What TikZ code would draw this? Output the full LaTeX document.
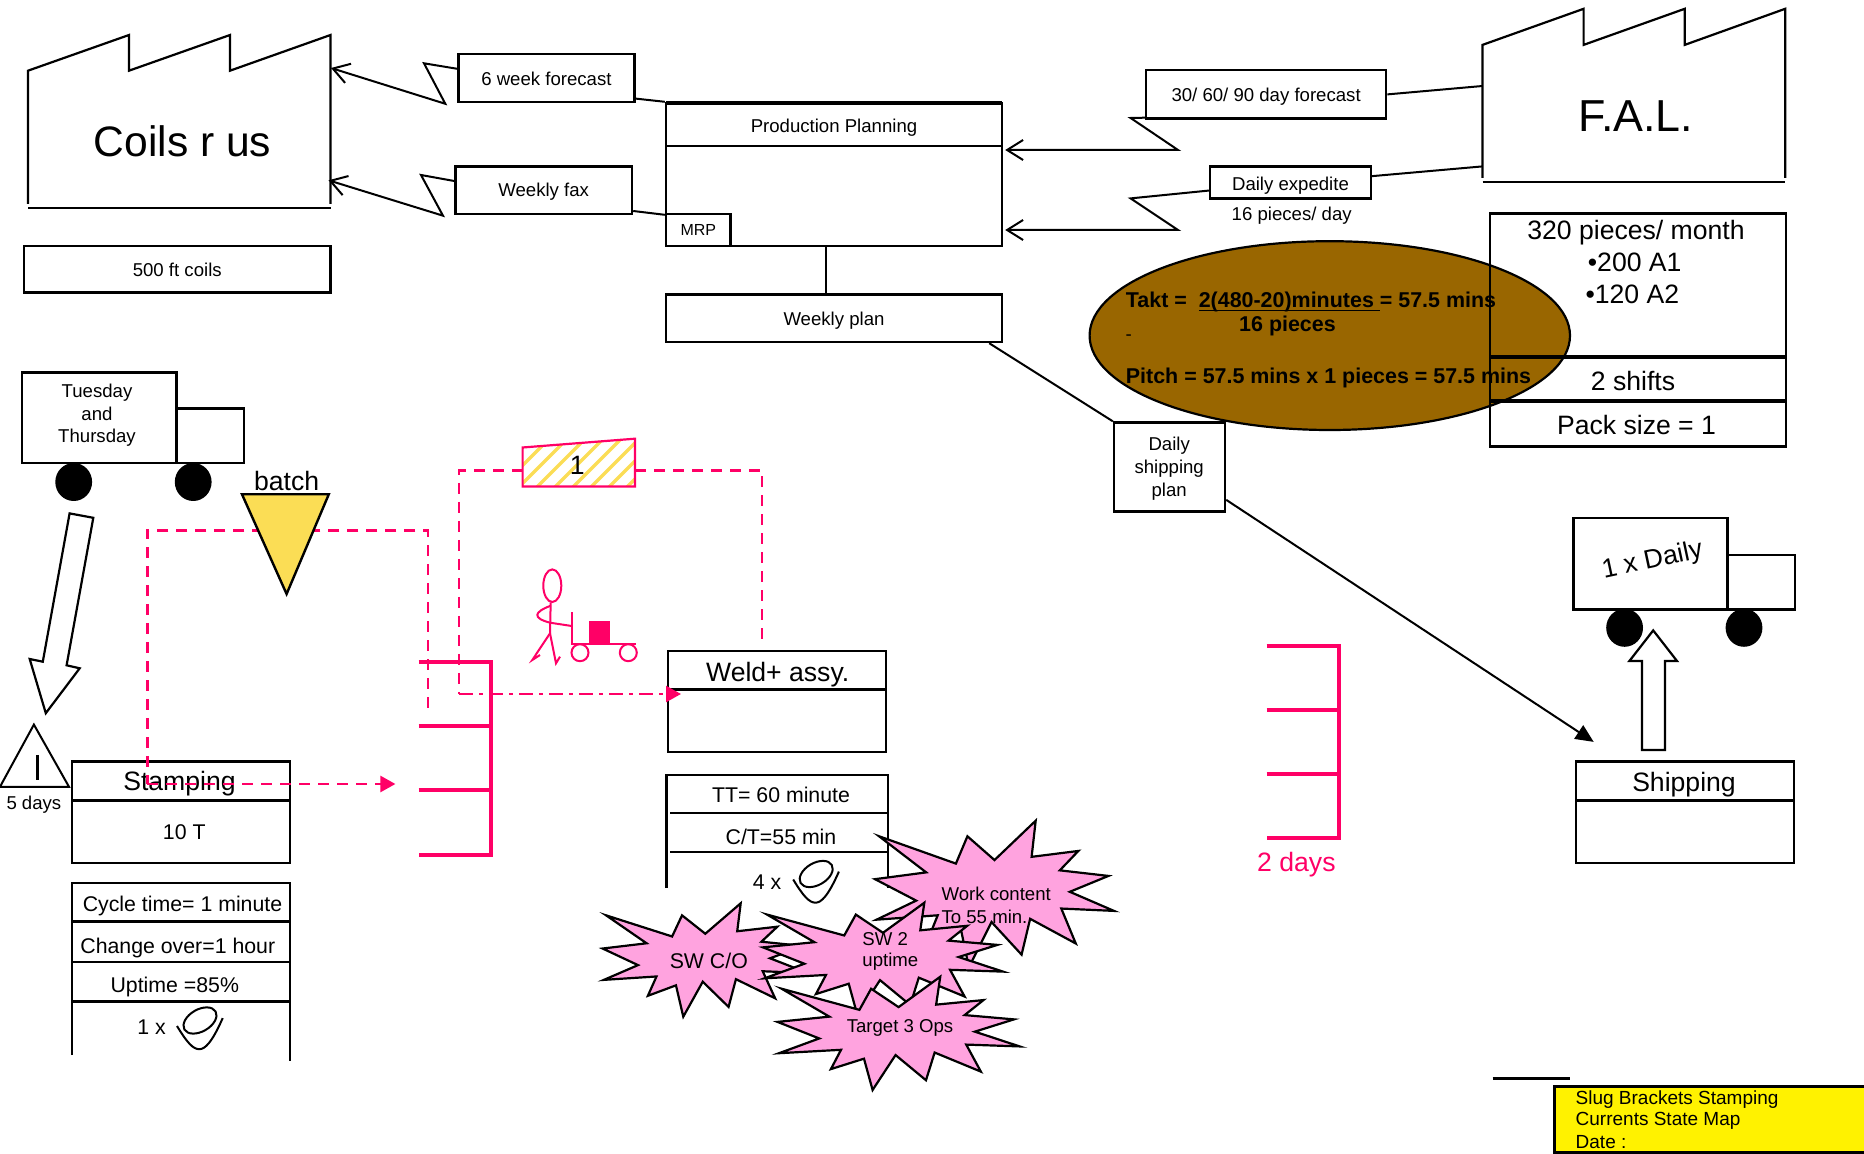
\documentclass[tikz,border=0pt]{standalone}
\usepackage{fontspec}
\setmainfont{Liberation Sans}
\usetikzlibrary{arrows.meta,shapes.geometric}
\definecolor{pk}{HTML}{FF0066}
\definecolor{brn}{HTML}{996600}
\definecolor{seal}{HTML}{FFA3DF}
\definecolor{tri}{HTML}{FBDD55}
\tikzset{
 fsm/.style={font=\fontsize{8}{9.6}\selectfont},
 fa/.style={font=\fontsize{9.3}{11.4}\selectfont},
 fb/.style={font=\fontsize{10.65}{12.5}\selectfont},
 fbb/.style={font=\fontsize{10.72}{12.5}\selectfont\bfseries},
 fc/.style={font=\fontsize{13.3}{15.7}\selectfont},
 fh/.style={font=\fontsize{21.3}{25}\selectfont},
 fy/.style={font=\fontsize{9.5}{11}\selectfont},
 tb/.style={text height=9.5pt,text depth=2pt},
 box/.style={draw,line width=1.2pt,inner sep=0pt,rectangle,align=center},
 txt/.style={inner sep=0pt,align=center},
 ln/.style={line width=1.1pt,line join=miter},
 conn/.style={line width=1pt,line join=miter},
 opentip/.style={-{Straight Barb[length=8pt,width=10pt,line width=1pt]}},
 pdash/.style={draw=pk,line width=1.25pt,dash pattern=on 5.5pt off 4pt},
 pdot/.style={draw=pk,line width=1.25pt,dash pattern=on 7pt off 3pt on 2pt off 3pt},
 ptip/.style={-{Triangle[length=7.5pt,width=8pt,fill=pk]}},
 inv/.style={draw=pk,line width=2pt,line cap=butt},
}
\newcommand\bx[7][]{\pgfmathsetmacro\bw{(#5-#3)/2}\pgfmathsetmacro\bh{(#6-#4)/2}\node[box,minimum width=\bw pt,minimum height=\bh pt,#1] (#2) at ({(#3+#5)/2},{(#4+#6)/2}) {#7};}
\newcommand\tx[5][]{\node[txt,#1] (#2) at (#3,#4) {#5};}
\newcommand\burst[4]{\pgfmathsetmacro\sw{(#3-#1)/200}\pgfmathsetmacro\sh{(#4-#2)/200}\begin{scope}[shift={(#1,#2)},x=\sw pt,y=-\sh pt]
\draw[fill=seal,line width=1.1pt,line join=miter] (50,26.85)--(67.23,0)--(65.53,24.65)--(85.09,20.63)--(77.32,33.87)--(97.67,37.67)--(81.51,48.5)--(100,61.53)--(77.95,59.92)--(84,83.77)--(64.91,66.93)--(61.33,91.38)--(48.76,69.14)--(39.28,100)--(35.72,72.35)--(22.05,81.56)--(26.24,64.52)--(0.63,67.53)--(17.23,54.51)--(0,39.88)--(21.42,35.26)--(1.71,10.63)--(33.85,29.26)--(38.67,10.63)--cycle;
\end{scope}}
\newcommand\opsym[3]{\begin{scope}[shift={(#2,#3)}]
\node[draw,ellipse,line width=1pt,minimum width=18pt,minimum height=11pt,inner sep=0pt,rotate=30] (#1) at (0,0) {};
\draw[line width=1pt] (-23,5.5) .. controls (-13,22) and (-7,28.7) .. (-0.7,28.7) .. controls (5,28.7) and (12,22) .. (22.7,-2.4);
\end{scope}}
\begin{document}
\begin{tikzpicture}[x=0.5pt,y=-0.5pt]
\useasboundingbox (0,0) rectangle (1864,1154);
% factories
\draw[ln] (28,204)--(28,70.7)--(129,35)--(129,70.7)--(230,35)--(230,70.7)--(330.5,35)--(330.5,204);
\draw[line width=1.2pt] (28,208.3)--(330.5,208.3);
\tx[fh]{coils}{182.5}{141}{Coils r us}
\draw[ln] (1482.5,177.8)--(1482.5,44.9)--(1583.6,8.8)--(1583.6,44.9)--(1684.7,8.8)--(1684.7,44.9)--(1785.2,8.8)--(1785.2,177.8);
\draw[line width=1.2pt] (1482.5,181.8)--(1785.2,181.8);
\tx[font=\fontsize{22.4}{26}\selectfont]{fal}{1636}{116}{F.A.L.}
\coordinate (coilA) at (331,68);
\coordinate (coilB) at (328.5,180.3);
\coordinate (falA) at (1482.5,86);
\coordinate (falB) at (1482.5,166.4);
% planning
\bx[fa]{pp}{666}{103}{1002}{246}{}
\draw[line width=1.2pt] (666,146)--(1002,146);
\draw[line width=1.8pt] (666,103)--(1002,103);
\tx[fa]{pptext}{834}{127.4}{Production Planning}
\bx[fsm]{mrp}{666}{214}{730.6}{246}{MRP}
\bx[fa,tb]{wp}{666}{294.4}{1002}{342}{Weekly plan}
\bx[fa,tb]{coilsize}{24}{246}{330.5}{292.6}{500 ft coils}
\bx[fa,tb]{fw}{458.4}{54}{634.4}{102}{6 week forecast}
\bx[fa,tb,text height=8.2pt]{wf}{455.4}{166.4}{632}{214}{Weekly fax}
\bx[fa,tb]{fd}{1146}{70.3}{1386.2}{118.5}{30/ 60/ 90 day forecast}
\bx[fa,tb]{de}{1210.2}{166.4}{1370.8}{198.7}{Daily expedite}
\tx[fa]{pd}{1291.7}{215.3}{16 pieces/ day}
% connectors top
\draw[conn,opentip] ([yshift=4.6pt]fw.west)--(424,63.3)--(445.3,103.8)--(coilA);
\draw[conn,opentip] ([yshift=4.6pt]wf.west)--(421,175)--(443,215.7)--(coilB);
\draw[conn] ([yshift=-10.3pt]fw.east)--(pp.north west);
\draw[conn] ([yshift=-10.4pt]wf.east)--([yshift=-1pt]mrp.north west);
\draw[conn] (fd.east)--(falA);
\draw[conn] ([yshift=3.2pt]de.east)--(falB);
\draw[conn,opentip] ([yshift=1pt]fd.south west)--(1130.6,118)--(1178,150)--([xshift=1pt,yshift=12.25pt]pp.east);
\draw[conn,opentip] ([yshift=-4pt]de.west)--(1130.6,198.4)--(1178,230)--([xshift=1pt,yshift=-27.75pt]pp.east);
\draw[conn] ([xshift=-3.8pt]pp.south)--([xshift=-3.8pt]wp.north);
% takt ellipse
\node[draw,ellipse,fill=brn,line width=1.1pt,minimum width=240.2pt,minimum height=94.4pt,inner sep=0pt] (takt) at (1329.8,335.6) {};
% info box
\bx{info}{1489.7}{213.5}{1785.8}{446.5}{}
\draw[line width=1.6pt] (1489.7,357)--(1785.8,357);
\draw[line width=1.6pt] (1489.7,401)--(1785.8,401);
\tx[fc]{i1}{1636}{233}{320 pieces/ month}
\tx[fc]{i2}{1634.7}{262.4}{•200 A1}
\tx[fc]{i3}{1632.4}{294}{•120 A2}
\tx[fc]{i4}{1633}{381}{2 shifts}
\tx[fc]{i5}{1636.5}{425}{Pack size = 1}
\tx[fbb,anchor=west]{t1}{1125.5}{302}{Takt =\ \ \underline{\smash{2(480-20)minutes\ }}= 57.5 mins}
\tx[fbb]{t2}{1287.5}{326.4}{16 pieces}
\tx[fa]{t3}{1128.8}{338}{-}
\tx[fbb,anchor=west]{t4}{1125.5}{378.4}{Pitch = 57.5 mins x 1 pieces = 57.5 mins}
% shipping plan
\bx{dsp}{1114}{422.5}{1225}{511.6}{}
\tx[font=\fontsize{9.3}{11.5}\selectfont]{dspt}{1169.2}{469}{Daily\\shipping\\plan}
\coordinate (shipIn) at (1593.7,741.9);
\draw[conn] ([xshift=-7pt]wp.south east)--(dsp.north west);
\draw[conn,-{Triangle[length=9pt,width=8pt]}] ([yshift=-16.4pt]dsp.east)--(shipIn);
% truck 1
\bx{trk}{22}{372.5}{176.6}{463}{}
\tx[fa]{trkt}{97}{415.3}{Tuesday\\and\\Thursday}
\bx{cab}{176.6}{408.5}{244}{463}{}
\fill (73.7,482) ellipse [x radius=18.4,y radius=19];
\fill (193.2,482) ellipse [x radius=18.4,y radius=19];
% truck 2
\bx{trk2}{1573.5}{518.2}{1727.5}{609.4}{}
\bx{cab2}{1727.5}{555}{1795.2}{609.4}{}
\fill (1624.6,627.8) ellipse [x radius=18.4,y radius=19];
\fill (1744,627.8) ellipse [x radius=18.4,y radius=19];
\tx[fc,rotate=12]{daily}{1652.5}{561}{1 x Daily}
% push arrows
\draw[line width=1.1pt,fill=white,line join=miter] (69.6,513.4)--(93.3,517.8)--(66.6,665.3)--(79.7,668.3)--(45.8,713.2)--(29.7,659)--(42.8,661.7)--cycle;
\draw[line width=1.1pt,fill=white,line join=miter] (1653.2,630.4)--(1677,661)--(1665,661)--(1665,750)--(1641.9,750)--(1641.9,661)--(1629.4,661)--cycle;
% kanban
\begin{scope}
\clip (522.6,447.5)--(635,438.7)--(635,486.6)--(522.6,486.6)--cycle;
\foreach \q in {480,498,...,660}{\draw[tri,line width=1.6pt] (\q,490)--(\q+55,435);}
\end{scope}
\draw[pk,line width=1.1pt] (522.6,447.5)--(635,438.7)--(635,486.6)--(522.6,486.6)--cycle;
\tx[fc]{kb}{577.3}{465.6}{1}
\coordinate (kbL) at (522.6,470.4);
\coordinate (kbR) at (635,470.4);
\coordinate (weldIn) at (762,645.8);
\coordinate (bendL) at (459,470.4);
\coordinate (bendB) at (459,694);
% process boxes
\bx[fc]{stamp}{72}{761.4}{290}{863}{}
\draw[line width=1.2pt] (72,800.4)--(291,800.4);
\tx[fc]{stt}{179.5}{783.4}{Stamping}
\tx[fb]{stv}{184.3}{832}{10 T}
\bx{weld}{667.7}{651}{885.8}{752.2}{}
\draw[line width=1.2pt] (667.7,689.6)--(885.8,689.6);
\tx[fc]{wlt}{777.7}{675}{Weld+ assy.}
\bx{ship}{1575.9}{761.4}{1794}{863}{}
\draw[line width=1.2pt] (1575.9,800.4)--(1794,800.4);
\tx[fc]{shp}{1684}{784.4}{Shipping}
% pink flows
\draw[pdash] (kbL)--(bendL)--(bendB);
\draw[pdash] (kbR)--(762,470.4)--(weldIn);
\draw[pdot,ptip] (bendB)--(681,694);
\draw[pdash] (428,707.7)--(428,530.4)--(147.4,530.4)--(147.4,784);
\draw[pdash,ptip] (147.4,784)--(395.4,784);
% batch triangle
\draw[line width=1.2pt,fill=tri,line join=miter] (242,494.3)--(328.8,494.3)--(286.6,594)--cycle;
\tx[fc]{batch}{286.6}{481}{batch}
% inventory triangle
\draw[line width=1pt,line join=miter] (33.9,724.6)--(69,786.8)--(0,786.8)--cycle;
\draw[line width=1.2pt] (37.5,754.8)--(37.5,780);
\tx[fa]{fd5}{33.9}{804.4}{5 days}
% supermarkets
\draw[inv] (418.5,662.4)--(490.5,662.4)--(490.5,855)--(418.5,855);
\draw[inv] (418.5,726)--(490.5,726);
\draw[inv] (418.5,790)--(490.5,790);
\draw[inv] (1266.7,646)--(1338.7,646)--(1338.7,838.3)--(1266.7,838.3);
\draw[inv] (1266.7,710)--(1338.7,710);
\draw[inv] (1266.7,774.3)--(1338.7,774.3);
\tx[fc,text=pk]{two}{1296.4}{864.5}{2 days}
% operator with cart
\begin{scope}[pk,line width=1pt]
\draw (552.3,585.7) ellipse [x radius=9,y radius=16.3];
\draw (550.7,602.3)--(550,633.3)--(532.3,660)--(540,655);
\draw (550,633.3)--(556,663.3)--(560,656.7);
\draw (550.7,605.7) .. controls (534,612) and (532,618) .. (550,622.7) -- (571.7,626);
\draw (572.3,612.3)--(572.3,644)--(636,644);
\fill (589,621) rectangle (610,644);
\draw (580,652.7) circle [radius=8.5];
\draw (628.3,652.7) circle [radius=8.5];
\end{scope}
% data boxes
\draw[ln] (72,1055)--(72,883.2)--(290,883.2)--(290,1061);
\draw[ln] (72,921.5)--(290,921.5);
\draw[ln] (72,961.6)--(290,961.6);
\draw[ln] (72,1001.4)--(290,1001.4);
\tx[fb]{d1}{182.5}{906}{Cycle time= 1 minute}
\tx[fb]{d2}{177.8}{948.4}{Change over=1 hour}
\tx[fb]{d3}{174.8}{987}{Uptime =85\%}
\tx[fb]{d4}{151.6}{1026.8}{1 x}
\opsym{opA}{200}{1020.5}
\draw[ln] (666.5,888)--(666.5,774.6)--(888,774.6)--(888,888);
\draw[ln] (670,813)--(888,813);
\draw[ln] (670,852.3)--(888,852.3);
\tx[fb]{e1}{781}{795}{TT= 60 minute}
\tx[fb]{e2}{781}{837}{C/T=55 min}
\tx[fb]{e3}{767}{881.7}{4 x}
\opsym{opB}{816.2}{874}
% kaizen bursts
\burst{875}{820.7}{1114}{967.3}
\tx[fa,anchor=west]{b1a}{941.2}{894}{Work content}
\tx[fa,anchor=west]{b1b}{941.2}{916.6}{To 55 min.}
\burst{602.6}{903.3}{808}{1016.7}
\tx[fb]{b2}{708.8}{960.6}{SW C/O}
\burst{763}{902.7}{1003}{1014.7}
\tx[fa,anchor=west]{b3a}{862}{939}{SW 2}
\tx[fa,anchor=west]{b3b}{862}{962}{uptime}
\burst{777.5}{976.7}{1019.6}{1090}
\tx[fa]{b4}{900}{1028}{Target 3 Ops}
% title block
\draw[line width=1.2pt] (1492.7,1078.3)--(1570,1078.3);
\draw[line width=1.2pt,fill=yellow] (1554.5,1086.4) rectangle (1866,1152.3);
\tx[fy,anchor=west]{y1}{1575.3}{1099.4}{Slug Brackets Stamping}
\tx[fy,anchor=west]{y2}{1575.3}{1121}{Currents State Map}
\tx[fy,anchor=west]{y3}{1575.3}{1141.6}{Date :}
\end{tikzpicture}
\end{document}
